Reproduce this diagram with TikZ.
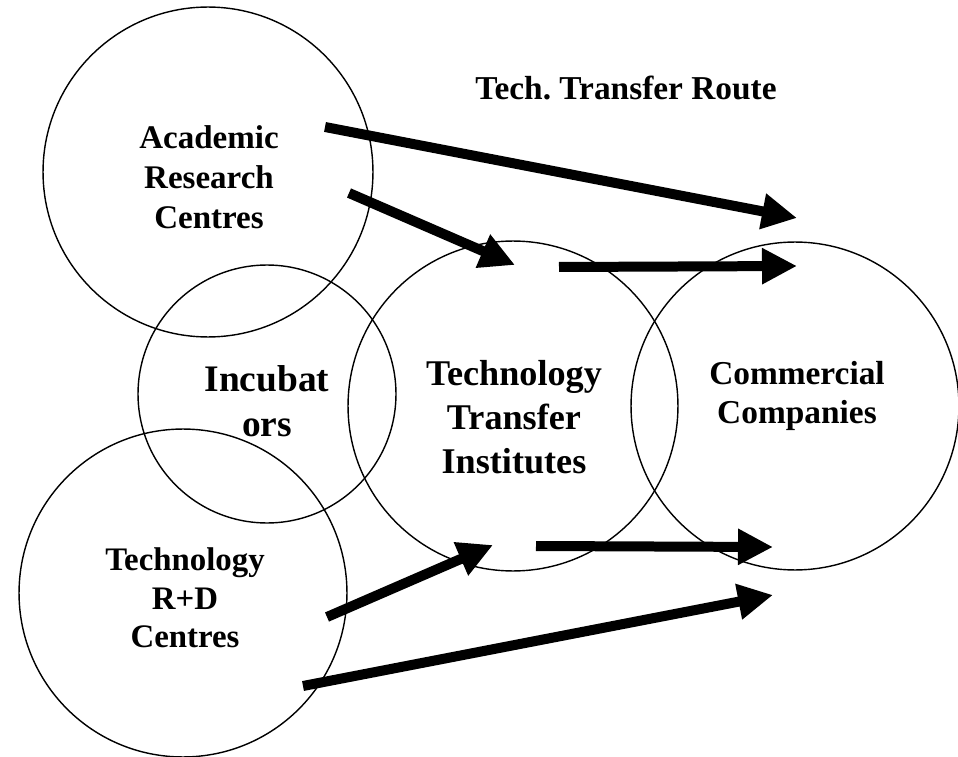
\documentclass[tikz,border=0pt]{standalone}
\usepackage{fontspec}
\setmainfont{Liberation Serif}
\usetikzlibrary{arrows.meta}

\tikzset{
  field/.style={draw, circle, line width=0.8pt, inner sep=0pt},
  lbl/.style={align=center, inner sep=0pt, font=\bfseries},
  route/.style={line width=0.2cm, -{Triangle[length=0.7cm, width=0.68cm]}}
}

\begin{document}
\begin{tikzpicture}[x=0.02cm, y=-0.02cm]
    \useasboundingbox (0,0) rectangle (958,757);
    % circles
    \node[field, minimum size=6.6cm] (acad) at (208,172) {};
    \node[field, minimum size=5.16cm] (incub) at (267,394) {};
    \node[field, minimum size=6.56cm] (rd) at (183,593) {};
    \node[field, minimum size=6.6cm] (tti) at (513,406) {};
    \node[field, minimum size=6.56cm] (comm) at (795,406) {};
    % labels
    \node[lbl, font=\bfseries\fontsize{18.8}{22.7}\selectfont] (acadtext) at (209,177)
      {Academic\\Research\\Centres};
    \node[lbl, font=\bfseries\fontsize{21.3}{25.5}\selectfont] (incubtext) at (267,401)
      {Incubat\\ors};
    \node[lbl, font=\bfseries\fontsize{20.6}{25}\selectfont] (ttitext) at (514,417)
      {Technology\\Transfer\\Institutes};
    \node[lbl, font=\bfseries\fontsize{19}{22.1}\selectfont] (commtext) at (797,396)
      {Commercial\\Companies};
    \node[lbl, font=\bfseries\fontsize{18.7}{21.9}\selectfont] (rdtext) at (185,598)
      {Technology\\R+D\\Centres};
    \node[lbl, font=\bfseries\fontsize{19}{22}\selectfont] (title) at (626,88)
      {Tech.\ Transfer Route};
    % arrow ends
    \coordinate (r1a) at (325,127);
    \coordinate (r1b) at (797,218);
    \coordinate (r2a) at (349,193);
    \coordinate (r2b) at (515,265);
    \coordinate (r3a) at (559,267);
    \coordinate (r3b) at (797,266);
    \coordinate (r4a) at (536,546);
    \coordinate (r4b) at (773,547);
    \coordinate (r5a) at (327,617);
    \coordinate (r5b) at (493,545);
    \coordinate (r6a) at (303,686);
    \coordinate (r6b) at (773,595);
    \foreach \s/\e in {r1a/r1b, r2a/r2b, r3a/r3b, r4a/r4b, r5a/r5b, r6a/r6b}
      \draw[route] (\s) -- (\e);
\end{tikzpicture}
\end{document}
